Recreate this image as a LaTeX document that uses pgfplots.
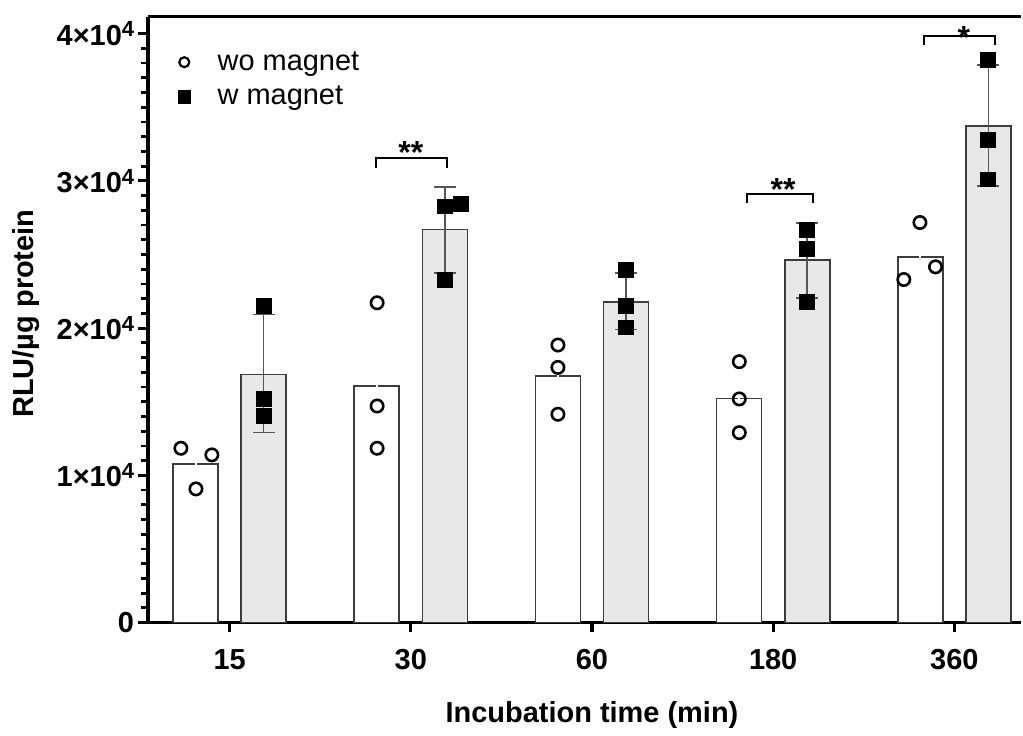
\documentclass[border=0pt]{standalone}
\usepackage{fontspec}
\setmainfont{Liberation Sans}
\usepackage{pgfplots}
\pgfplotsset{compat=1.18}
\definecolor{barg}{RGB}{232,232,232}
\definecolor{edge}{RGB}{60,60,60}
\definecolor{errc}{RGB}{85,85,85}
\newcommand{\sci}[1]{\textbf{#1×10\raisebox{0.55ex}{\fontsize{11}{11}\selectfont 4}}}
\begin{document}
\begin{tikzpicture}
\begin{axis}[
  scale only axis,
  width=437.5pt, height=303.5pt,
  xmin=-0.452, xmax=4.369,
  ymin=0, ymax=41150,
  axis x line*=bottom, axis y line*=left,
  x axis line style={line width=1.8pt,-},
  y axis line style={line width=2pt,-},
  font=\fontsize{14.5}{17}\selectfont,
  xtick={0,1,2,3,4},
  xticklabels={\textbf{15},\textbf{30},\textbf{60},\textbf{180},\textbf{360}},
  xticklabel style={yshift=-5pt},
  ytick={0,10000,20000,30000,40000},
  yticklabels={\textbf{0},\sci{1},\sci{2},\sci{3},\sci{4}},
  yticklabel style={xshift=1.5pt},
  minor y tick num=9,
  scaled y ticks=false,
  tick align=outside,
  major tick length=4.8pt,
  minor tick length=3.5pt,
  every major tick/.append style={line width=1.6pt,black},
  every minor tick/.append style={line width=1.4pt,black},
  xlabel={\textbf{Incubation time (min)}},
  ylabel={\textbf{RLU/µg protein}},
  xlabel style={at={(axis description cs:0.5086,-0.153)},anchor=center},
  ylabel style={at={(axis description cs:-0.1394,0.51)},anchor=center,rotate=0},
  legend image code/.code={\path (0pt,0pt) (23pt,0pt); \draw[#1] plot coordinates {(8.5pt,0pt)};},
  legend style={at={(axis description cs:0.0215,0.950)},anchor=north west,draw=none,fill=none,inner sep=0pt,row sep=2.5pt,font=\fontsize{14.5}{17}\selectfont},
  legend cell align=left,
  clip=false,
]
% bars
\addplot[ybar,bar width=0.248,bar shift=0,fill=white,draw=edge,line width=0.8pt,forget plot]
 coordinates {(-0.188,10780) (0.812,16070) (1.812,16750) (2.812,15230) (3.812,24830)};
\addplot[ybar,bar width=0.248,bar shift=0,fill=barg,draw=edge,line width=0.8pt,forget plot]
 coordinates {(0.188,16860) (1.188,26690) (2.188,21780) (3.188,24610) (4.188,33720)};
% error bars (wo magnet, drawn in white as in the original)
\addplot[draw=none,mark=none,forget plot,error bars/.cd,y dir=both,y explicit,
  error mark=none,error bar style={line width=1pt,draw=white}]
 coordinates {(-0.188,10780) +- (0,1480) (0.812,16070) +- (0,5080) (1.812,16750) +- (0,2400) (2.812,15230) +- (0,2410) (3.812,24830) +- (0,2030)};
% error bars (w magnet)
\addplot[draw=none,mark=none,forget plot,error bars/.cd,y dir=both,y explicit,
  error bar style={line width=0.8pt,draw=errc},
  error mark options={rotate=90,mark size=5.5pt,line width=0.8pt,draw=errc}]
 coordinates {(0.188,16860) += (0,4070) -= (0,3960)
   (1.188,26690) += (0,2890) -= (0,2940)
   (2.188,21780) += (0,1970) -= (0,1870)
   (3.188,24610) += (0,2530) -= (0,2560)
   (4.188,33720) += (0,4160) -= (0,4070)};
% points
\addplot[only marks,mark=o,mark size=3.1pt,mark options={line width=1.3pt,black},forget plot]
 coordinates {(-0.269,11840) (-0.098,11390) (-0.186,9080)
  (0.814,21720) (0.814,14710) (0.814,11840)
  (1.812,18850) (1.812,17330) (1.812,14150)
  (2.813,17720) (2.813,15190) (2.813,12900)
  (3.810,27170) (3.896,24160) (3.721,23300)};
\addplot[only marks,mark=square*,mark size=3.7pt,mark options={black},forget plot]
 coordinates {(0.188,21490) (0.188,15190) (0.188,14030)
  (1.187,28270) (1.275,28450) (1.187,23250)
  (2.188,23930) (2.188,21490) (2.188,20050)
  (3.186,26690) (3.186,25360) (3.186,21780)
  (4.186,38220) (4.186,32790) (4.186,30100)};
\addlegendimage{only marks,mark=o,mark size=2.5pt,mark options={line width=1.1pt,black}}
\addlegendentry{wo magnet}
\addlegendimage{only marks,mark=square*,mark size=3.1pt,mark options={black}}
\addlegendentry{w magnet}
% top frame line
\draw[line width=1.5pt] (rel axis cs:0,1) -- (rel axis cs:1,1);
% significance brackets
\draw[line width=1pt] (axis cs:0.807,30890) -- (axis cs:0.807,31550) -- (axis cs:1.202,31550) -- (axis cs:1.202,30890);
\node[anchor=base,font=\bfseries\fontsize{16}{16}\selectfont,inner sep=0pt] at (axis cs:1.0,31150) {**};
\draw[line width=1pt] (axis cs:2.853,28490) -- (axis cs:2.853,29130) -- (axis cs:3.220,29130) -- (axis cs:3.220,28490);
\node[anchor=base,font=\bfseries\fontsize{16}{16}\selectfont,inner sep=0pt] at (axis cs:3.055,28670) {**};
\draw[line width=1pt] (axis cs:3.832,39250) -- (axis cs:3.832,39860) -- (axis cs:4.227,39860) -- (axis cs:4.227,39250);
\node[anchor=base,font=\bfseries\fontsize{16}{16}\selectfont,inner sep=0pt] at (axis cs:4.052,39020) {*};
\end{axis}
\path ([xshift=-74pt,yshift=-53pt]current axis.south west) rectangle ([yshift=8.35pt]current axis.north east);
\end{tikzpicture}
\end{document}
